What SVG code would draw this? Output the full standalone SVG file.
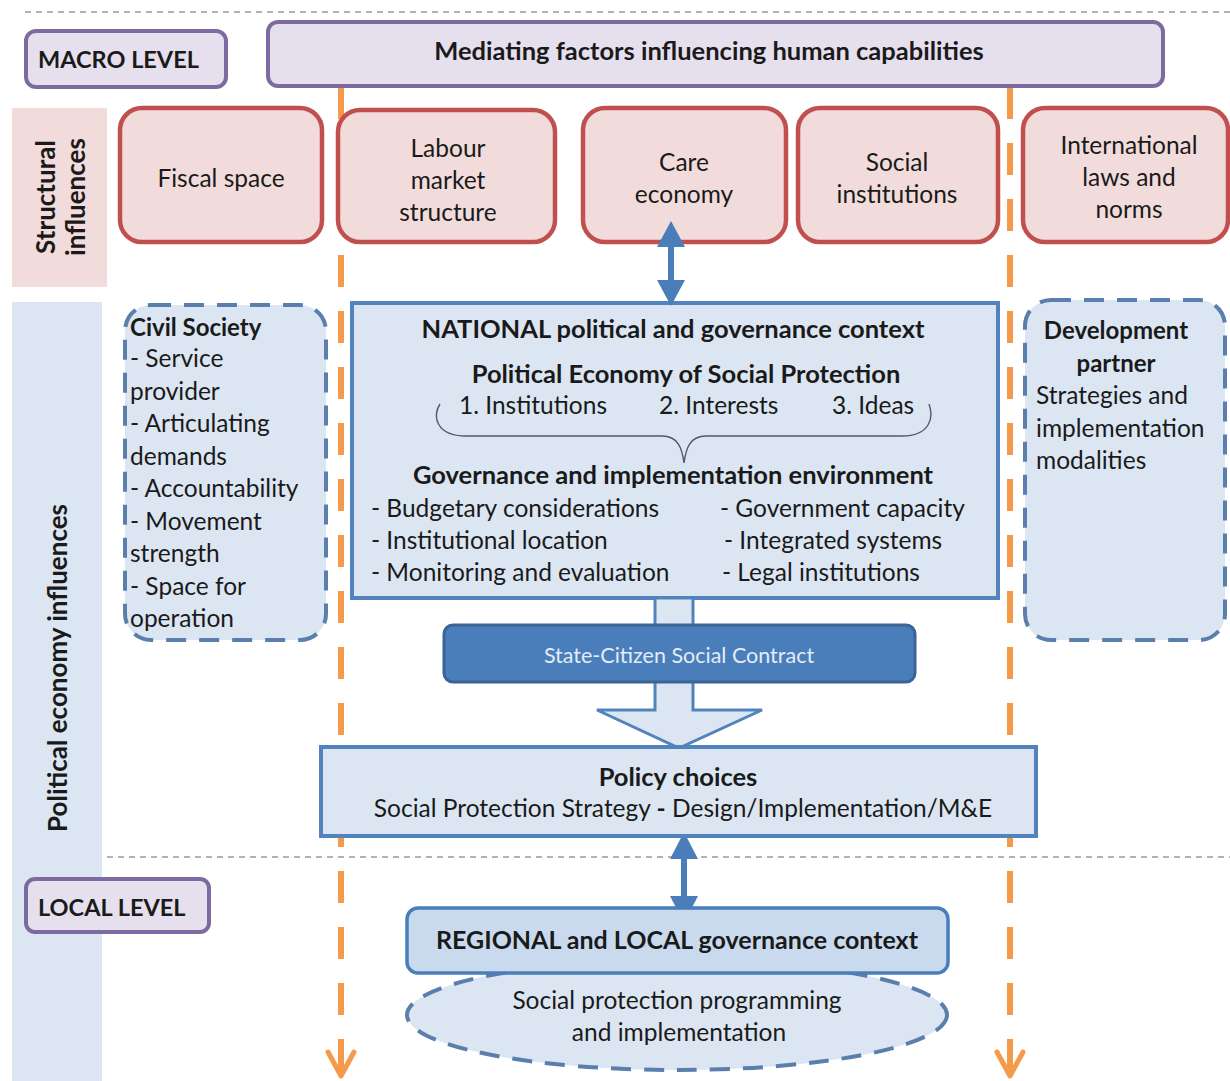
<svg xmlns="http://www.w3.org/2000/svg" width="1230" height="1081" viewBox="0 0 1230 1081">
  <style>
    text { font-family: Lato, "Open Sans", "Liberation Sans", sans-serif; fill: #1a1a1a; font-size: 24.5px; }
    .b { font-weight: bold; font-size: 25.5px; }
    .c { text-anchor: middle; }
    .lv { font-weight: bold; font-size: 23.5px; }
    .side { font-weight: bold; font-size: 26px; }
    .lvl { fill: #e6e0ee; stroke: #7d6a9e; stroke-width: 4; }
    .pink { fill: #f2dcdb; stroke: #c0504d; stroke-width: 4.5; }
    .blue { fill: #dce6f2; stroke: #5383bd; stroke-width: 4; }
    .dash { fill: #dce6f2; stroke: #5a7fac; stroke-width: 4; stroke-dasharray: 20 13; }
    .sep { stroke: #9a9a9a; stroke-width: 1.3; stroke-dasharray: 6 5; fill: none; }
    .orange { stroke: #f59a4a; stroke-width: 6; stroke-dasharray: 32 24; fill: none; }
    .ohead { stroke: #f59a4a; stroke-width: 5; fill: none; stroke-linecap: round; stroke-linejoin: round; }
    .shaft { stroke: #4a7ebb; stroke-width: 6; fill: none; }
    .bhead { fill: #4a7ebb; }
  </style>

  <!-- level separators -->
  <line class="sep" x1="25" y1="12" x2="1230" y2="12"/>
  <line class="sep" x1="30" y1="857" x2="1230" y2="857"/>

  <!-- side band labels -->
  <g id="structural-label">
    <rect x="12" y="108" width="95" height="179" fill="#f2dcdb"/>
    <text class="side c" transform="translate(58,197) rotate(-90)"><tspan x="0" y="-3">Structural</tspan><tspan x="0" y="27">influences</tspan></text>
  </g>
  <g id="political-label">
    <rect x="12" y="302" width="90" height="779" fill="#dce6f2"/>
    <text class="side c" transform="translate(67,668) rotate(-90)" x="0" y="0">Political economy influences</text>
  </g>

  <!-- orange boundary lines (behind the boxes) -->
  <g id="boundaries">
    <line class="orange" x1="341" y1="87" x2="341" y2="1075"/>
    <polyline class="ohead" points="328,1052 341,1076 354,1052"/>
    <line class="orange" x1="1010" y1="87" x2="1010" y2="1075"/>
    <polyline class="ohead" points="997,1052 1010,1076 1023,1052"/>
  </g>

  <g id="macro-level">
    <rect class="lvl" x="26" y="31" width="200" height="56" rx="10"/>
    <text class="lv" x="38" y="68">MACRO LEVEL</text>
  </g>
  <g id="mediating">
    <rect class="lvl" x="268" y="22" width="895" height="64" rx="10"/>
    <text class="b c" x="709" y="60">Mediating factors influencing human capabilities</text>
  </g>

  <!-- structural influences -->
  <g id="fiscal">
    <rect class="pink" x="120" y="108" width="202" height="134" rx="22"/>
    <text class="c" x="221" y="187">Fiscal space</text>
  </g>
  <g id="labour">
    <rect class="pink" x="338" y="110" width="217" height="132" rx="22"/>
    <text class="c" x="448" y="157">Labour</text>
    <text class="c" x="448" y="189">market</text>
    <text class="c" x="448" y="221">structure</text>
  </g>
  <g id="care">
    <rect class="pink" x="583" y="108" width="203" height="134" rx="22"/>
    <text class="c" x="684" y="171">Care</text>
    <text class="c" x="684" y="203">economy</text>
  </g>
  <g id="social-inst">
    <rect class="pink" x="798" y="108" width="200" height="134" rx="22"/>
    <text class="c" x="897" y="171">Social</text>
    <text class="c" x="897" y="203">institutions</text>
  </g>
  <g id="international">
    <rect class="pink" x="1023" y="108" width="205" height="134" rx="22"/>
    <text class="c" x="1129" y="154">International</text>
    <text class="c" x="1129" y="186">laws and</text>
    <text class="c" x="1129" y="218">norms</text>
  </g>

  <!-- political economy influences -->
  <g id="civil-society">
    <rect class="dash" x="125" y="305" width="201" height="335" rx="26"/>
    <text class="b" x="130" y="336" style="font-size:24px">Civil Society</text>
    <text x="130" y="367">- Service</text>
    <text x="130" y="400">provider</text>
    <text x="130" y="432">- Articulating</text>
    <text x="130" y="465">demands</text>
    <text x="130" y="497">- Accountability</text>
    <text x="130" y="530">- Movement</text>
    <text x="130" y="562">strength</text>
    <text x="130" y="595">- Space for</text>
    <text x="130" y="627">operation</text>
  </g>

  <g id="development-partner">
    <rect class="dash" x="1025" y="300" width="200" height="340" rx="26"/>
    <text class="b c" x="1116" y="339" style="font-size:24px">Development</text>
    <text class="b c" x="1116" y="372" style="font-size:24px">partner</text>
    <text x="1036" y="404">Strategies and</text>
    <text x="1036" y="437">implementation</text>
    <text x="1036" y="469">modalities</text>
  </g>

  <g id="national">
    <rect class="blue" x="352" y="303" width="646" height="295"/>
    <text class="b c" x="673" y="338">NATIONAL political and governance context</text>
    <text class="b c" x="686" y="383">Political Economy of Social Protection</text>
    <text x="459" y="414">1. Institutions</text>
    <text x="659" y="414">2. Interests</text>
    <text x="832" y="414">3. Ideas</text>
    <path d="M440,404 C432,416 436,436 466,436 L662,436 C678,436 682,448 684,463 C686,448 690,436 706,436 L902,436 C930,436 934,418 929,404" fill="none" stroke="#505a66" stroke-width="1.4"/>
    <text class="b c" x="673" y="484">Governance and implementation environment</text>
    <text x="371" y="517">- Budgetary considerations</text>
    <text x="371" y="549">- Institutional location</text>
    <text x="371" y="581">- Monitoring and evaluation</text>
    <text x="720" y="517">- Government capacity</text>
    <text x="724" y="549">- Integrated systems</text>
    <text x="722" y="581">- Legal institutions</text>
  </g>

  <!-- connectors -->
  <g id="connectors">
    <!-- care economy <-> national context -->
    <line class="shaft" x1="671" y1="240" x2="671" y2="288"/>
    <path class="bhead" d="M671,221 L685,247 L657,247 Z"/>
    <path class="bhead" d="M671,306 L685,280 L657,280 Z"/>
    <!-- national context -> policy choices (block arrow through the social contract) -->
    <path d="M655,598 L693,598 L693,710 L762,710 L679,748 L597,710 L655,710 Z" fill="#dce6f2" stroke="#5383bd" stroke-width="3" stroke-linejoin="miter"/>
    <!-- policy choices <-> regional context -->
    <line class="shaft" x1="684" y1="850" x2="684" y2="905"/>
    <path class="bhead" d="M684,832 L698,859 L670,859 Z"/>
    <path class="bhead" d="M684,923 L698,896 L670,896 Z"/>
  </g>

  <g id="social-contract">
    <rect x="444" y="625" width="471" height="57" rx="9" fill="#4a7ebb" stroke="#3a6496" stroke-width="3"/>
    <text class="c" x="679" y="663" style="font-size:21.5px; fill:#e3ecf7;">State-Citizen Social Contract</text>
  </g>

  <g id="policy-choices">
    <rect class="blue" x="321" y="747" width="715" height="89"/>
    <text class="b c" x="678" y="786">Policy choices</text>
    <text class="c" x="683" y="817">Social Protection Strategy <tspan font-weight="bold">-</tspan> Design/Implementation/M&amp;E</text>
  </g>

  <g id="local-level">
    <rect class="lvl" x="26" y="879" width="183" height="53" rx="9"/>
    <text class="lv" x="38" y="916">LOCAL LEVEL</text>
  </g>

  <g id="programming">
    <ellipse class="dash" cx="677" cy="1015" rx="270" ry="55"/>
    <text class="c" x="677" y="1009">Social protection programming</text>
    <text class="c" x="679" y="1041">and implementation</text>
  </g>

  <g id="regional">
    <rect x="407" y="908" width="541" height="65" rx="11" fill="#c9daef" stroke="#4a7ebb" stroke-width="3.5"/>
    <text class="b c" x="677" y="949" style="font-size:25px">REGIONAL and LOCAL governance context</text>
  </g>
</svg>
